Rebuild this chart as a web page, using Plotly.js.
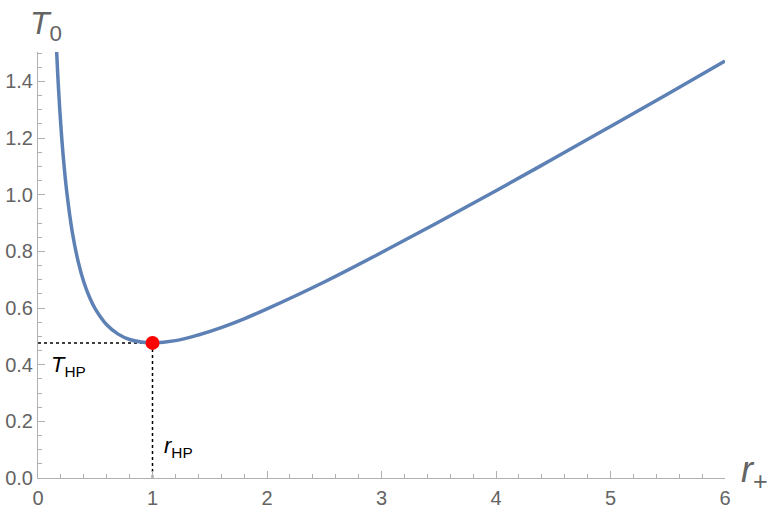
<!DOCTYPE html>
<html>
<head>
<meta charset="utf-8">
<script src="https://cdn.plot.ly/plotly-3.0.1.min.js"></script>
<style>
  html, body { margin: 0; padding: 0; background: #fff; }
  #chart { width: 775px; height: 515px; }
</style>
</head>
<body>
<div id="chart"></div>
<script>
// curve T0(r+)
var rPlus = [0.16, 0.17, 0.18, 0.2, 0.22, 0.25, 0.3, 0.35, 0.4, 0.45, 0.5, 0.6, 0.7, 0.8, 0.9, 1.0,
             1.2, 1.4, 1.6, 1.8, 2.0, 2.5, 3.0, 3.5, 4.0, 4.5, 5.0, 5.5, 6.0];
var T0 = [1.530, 1.444, 1.369, 1.241, 1.137, 1.014, 0.867, 0.766, 0.692, 0.638, 0.597, 0.541, 0.508, 0.489, 0.480, 0.477,
          0.485, 0.505, 0.531, 0.562, 0.597, 0.692, 0.796, 0.904, 1.014, 1.127, 1.241, 1.356, 1.472];

// Hawking-Page point
var rHP = 1.0;
var THP = 0.477;

var axisGray = "#b0b0b0";
var labelGray = "#646464";
var fontFam = "Liberation Sans, Arial, sans-serif";

var traces = [
  { x: [0, rHP], y: [THP, THP], mode: "lines", line: { color: "#000", width: 1.5, dash: "dot" }, hoverinfo: "skip" },
  { x: [rHP, rHP], y: [0, THP], mode: "lines", line: { color: "#000", width: 1.5, dash: "dot" }, hoverinfo: "skip" },
  { x: rPlus, y: T0, mode: "lines", line: { color: "#5E81B5", width: 3.5, shape: "spline", smoothing: 1 } },
  { x: [rHP], y: [THP], mode: "markers", marker: { color: "#FF0000", size: 14 }, cliponaxis: false }
];

var axisCommon = {
  showgrid: false, zeroline: false, showline: true, linecolor: axisGray, linewidth: 1,
  ticks: "inside", ticklen: 7, tickcolor: axisGray, tickwidth: 1,
  tickfont: { family: fontFam, size: 20, color: labelGray }
};

var layout = {
  width: 775, height: 515,
  margin: { l: 38, r: 50, t: 52, b: 37 },
  paper_bgcolor: "#fff", plot_bgcolor: "#fff",
  showlegend: false,
  xaxis: Object.assign({}, axisCommon, {
    range: [0, 6], dtick: 1, tick0: 0, ticklabelstandoff: 2,
    minor: { dtick: 0.2, ticks: "inside", ticklen: 4, tickcolor: axisGray, showgrid: false }
  }),
  yaxis: Object.assign({}, axisCommon, {
    range: [0, 1.504], dtick: 0.2, tick0: 0, tickformat: ".1f",
    minor: { dtick: 0.05, ticks: "inside", ticklen: 4, tickcolor: axisGray, showgrid: false }
  }),
  annotations: [
    { xref: "paper", yref: "paper", x: -0.02, y: 1.0, xanchor: "left", yanchor: "bottom", xshift: 4, yshift: 4,
      text: "<i>T</i><sub>0</sub>", showarrow: false,
      font: { family: fontFam, size: 32, color: labelGray } },
    { xref: "paper", yref: "paper", x: 1.0, y: 0, xanchor: "left", yanchor: "middle", xshift: 14, yshift: 6,
      text: "<i>r</i><sub>+</sub>", showarrow: false,
      font: { family: fontFam, size: 36, color: labelGray } },
    { x: 0.1, y: 0.395, xanchor: "left", yanchor: "middle",
      text: "<i>T</i><sub>HP</sub>", showarrow: false,
      font: { family: fontFam, size: 22, color: "#000" } },
    { x: 1.08, y: 0.11, xanchor: "left", yanchor: "middle",
      text: "<i>r</i><sub>HP</sub>", showarrow: false,
      font: { family: fontFam, size: 22, color: "#000" } }
  ]
};

Plotly.newPlot("chart", traces, layout, { displayModeBar: false, staticPlot: true });
</script>
</body>
</html>
